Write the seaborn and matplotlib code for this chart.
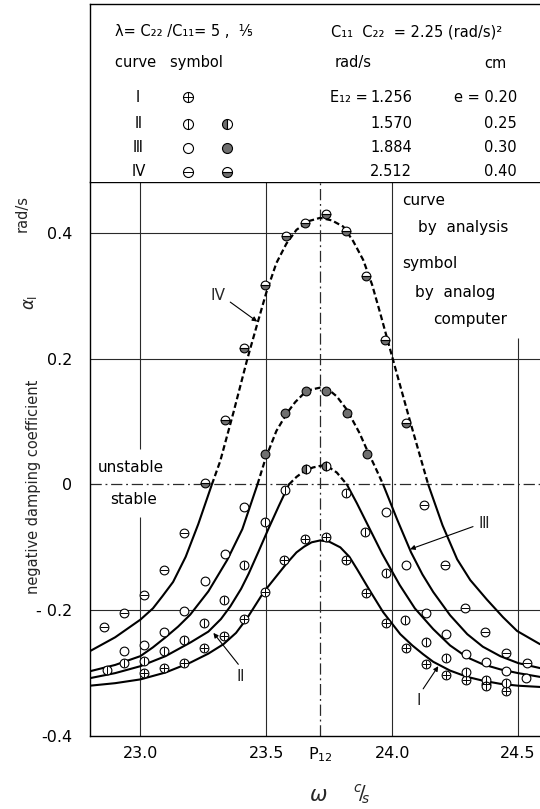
import matplotlib
matplotlib.use("Agg")
import matplotlib.pyplot as plt
import seaborn as sns
import numpy as np
import pandas as pd

sns.set_theme(style="white")
plt.rcParams["font.family"] = ["DejaVu Sans"]
plt.rcParams["mathtext.fontset"] = "dejavusans"

# ---------------- data ----------------
curve_names = ["Ⅰ", "Ⅱ", "Ⅲ", "Ⅳ"]
E12_values = ["1.256", "1.570", "1.884", "2.512"]
e_values = ["0.20", "0.25", "0.30", "0.40"]

x_ticks = [23.0, 23.5, 23.714, 24.0, 24.5]
x_tick_labels = ["23.0", "23.5", r"P$_{12}$", "24.0", "24.5"]
y_ticks = [0.4, 0.2, 0.0, -0.2, -0.4]
y_tick_labels = ["0.4", "0.2", "0", "- 0.2", "-0.4"]

# curves by analysis
I_cx = [22.80, 22.90, 23.00, 23.10, 23.20, 23.27, 23.33, 23.38, 23.425, 23.49, 23.54, 23.58, 23.62,
        23.65, 23.68, 23.714, 23.75, 23.794, 23.83, 23.861, 23.91, 23.964, 24.032, 24.08, 24.123,
        24.163, 24.23, 24.298, 24.36, 24.429, 24.50, 24.587]
I_cy = [-0.320, -0.316, -0.310, -0.299, -0.283, -0.269, -0.254, -0.236, -0.212, -0.171, -0.146, -0.126, -0.108,
        -0.099, -0.092, -0.089, -0.091, -0.100, -0.115, -0.135, -0.168, -0.203, -0.238, -0.256, -0.270,
        -0.282, -0.296, -0.306, -0.312, -0.317, -0.320, -0.322]

II_cx = [22.80, 22.90, 23.00, 23.10, 23.20, 23.27, 23.32, 23.357, 23.40, 23.43, 23.47, 23.508, 23.55,
         23.59, 23.62, 23.65, 23.685, 23.72, 23.75, 23.78, 23.82, 23.86, 23.90, 23.96, 24.03, 24.09,
         24.163, 24.23, 24.298, 24.36, 24.429, 24.50, 24.587]
II_cy = [-0.308, -0.300, -0.289, -0.273, -0.251, -0.234, -0.214, -0.194, -0.166, -0.142, -0.106, -0.071, -0.034,
         0.0, 0.012, 0.021, 0.027, 0.030, 0.027, 0.019, 0.0, -0.030, -0.062, -0.110, -0.160, -0.197,
         -0.230, -0.256, -0.275, -0.286, -0.294, -0.300, -0.306]

III_cx = [22.80, 22.90, 23.00, 23.05, 23.10, 23.15, 23.198, 23.27, 23.345, 23.405, 23.465, 23.496, 23.54,
          23.583, 23.615, 23.65, 23.68, 23.714, 23.75, 23.78, 23.82, 23.87, 23.90, 23.932, 23.964, 24.02,
          24.075, 24.12, 24.163, 24.23, 24.298, 24.36, 24.429, 24.50, 24.587]
III_cy = [-0.297, -0.287, -0.273, -0.259, -0.243, -0.226, -0.207, -0.170, -0.120, -0.071, 0.0, 0.040, 0.085,
          0.114, 0.131, 0.145, 0.151, 0.154, 0.150, 0.140, 0.119, 0.082, 0.055, 0.028, 0.0, -0.056,
          -0.108, -0.143, -0.171, -0.208, -0.238, -0.258, -0.273, -0.284, -0.292]

IV_cx = [22.80, 22.90, 23.00, 23.05, 23.087, 23.13, 23.18, 23.23, 23.284, 23.317, 23.37, 23.425, 23.464,
         23.50, 23.54, 23.58, 23.62, 23.67, 23.714, 23.76, 23.806, 23.845, 23.885, 23.92, 23.952, 24.00,
         24.07, 24.143, 24.20, 24.258, 24.31, 24.376, 24.44, 24.496, 24.587]
IV_cy = [-0.265, -0.243, -0.215, -0.197, -0.178, -0.155, -0.115, -0.063, 0.0, 0.037, 0.115, 0.200, 0.255,
         0.305, 0.352, 0.383, 0.405, 0.419, 0.424, 0.420, 0.410, 0.387, 0.357, 0.318, 0.273, 0.203,
         0.102, 0.0, -0.065, -0.119, -0.152, -0.183, -0.211, -0.233, -0.254]

# symbols by analog computer
I_px = [23.016, 23.095, 23.175, 23.254, 23.333, 23.413, 23.496, 23.571, 23.655, 23.738, 23.817,
        23.897, 23.976, 24.056, 24.135, 24.214, 24.294, 24.373, 24.452]
I_py = [-0.300, -0.292, -0.284, -0.260, -0.241, -0.214, -0.171, -0.120, -0.086, -0.084, -0.120,
        -0.173, -0.221, -0.260, -0.286, -0.303, -0.311, -0.317, -0.329]

II_px = [22.869, 22.937, 23.016, 23.095, 23.175, 23.254, 23.333, 23.413, 23.496, 23.575, 23.659,
         23.738, 23.817, 23.893, 23.976, 24.052, 24.135, 24.214, 24.294, 24.373, 24.373, 24.452]
II_py = [-0.295, -0.284, -0.280, -0.265, -0.247, -0.221, -0.184, -0.128, -0.060, -0.009, 0.025,
         0.029, -0.014, -0.076, -0.140, -0.216, -0.251, -0.276, -0.299, -0.311, -0.320, -0.316]

III_px = [22.937, 23.016, 23.095, 23.175, 23.258, 23.337, 23.413, 23.496, 23.575, 23.659, 23.738,
          23.821, 23.901, 23.976, 24.056, 24.135, 24.214, 24.294, 24.373, 24.452, 24.532]
III_py = [-0.265, -0.255, -0.235, -0.201, -0.153, -0.110, -0.036, 0.048, 0.113, 0.148, 0.149,
          0.113, 0.049, -0.043, -0.128, -0.205, -0.237, -0.270, -0.283, -0.297, -0.308]

IV_px = [22.857, 22.937, 23.016, 23.095, 23.175, 23.258, 23.337, 23.413, 23.496, 23.579, 23.655,
         23.738, 23.817, 23.897, 23.972, 24.056, 24.127, 24.210, 24.290, 24.370, 24.450, 24.535]
IV_py = [-0.227, -0.204, -0.175, -0.136, -0.077, 0.003, 0.103, 0.217, 0.317, 0.395, 0.416,
         0.430, 0.403, 0.332, 0.230, 0.097, -0.032, -0.128, -0.196, -0.234, -0.268, -0.284]

# ---------------- figure ----------------
W, H = 540, 809
fig = plt.figure(figsize=(W / 100, H / 100), dpi=100, facecolor="white")

X0, X1 = 22.8, 24.587
Y0, Y1 = -0.4, 0.481
ax = fig.add_axes([90 / W, 1 - 736 / H, 450 / W, (736 - 182) / H])
ax.set_xlim(X0, X1)
ax.set_ylim(Y0, Y1)
ax.set_facecolor("white")
for s in ["left", "bottom", "top"]:
    ax.spines[s].set_color("black")
    ax.spines[s].set_linewidth(1.0)
ax.spines["right"].set_visible(False)

GRID = dict(color="#2a2a2a", lw=0.8, zorder=1)
ax.vlines(23.0, 0.056, Y1, **GRID)
ax.vlines(23.0, Y0, -0.051, **GRID)
ax.vlines(23.5, Y0, Y1, **GRID)
ax.vlines(24.0, Y0, Y1, **GRID)
ax.vlines(24.5, Y0, 0.233, **GRID)
ax.hlines(0.4, X0, 24.0, **GRID)
ax.hlines(0.2, X0, X1, **GRID)
ax.hlines(-0.2, X0, X1, **GRID)
ax.axhline(0.0, color="#2a2a2a", lw=0.9, ls=(0, (9, 3, 1.5, 3)), zorder=1)
ax.axvline(23.714, color="#2a2a2a", lw=0.9, ls=(0, (9, 3, 1.5, 3)), zorder=1)

# curves: solid below zero, dashed above zero
def draw_curve(xs, ys):
    xs = np.asarray(xs); ys = np.asarray(ys)
    segpos = [(ys[i] + ys[i + 1]) / 2 > 0 for i in range(len(xs) - 1)]
    start = 0
    for i in range(1, len(segpos) + 1):
        if i == len(segpos) or segpos[i] != segpos[start]:
            sx = xs[start:i + 1]; sy = ys[start:i + 1]
            sns.lineplot(x=sx, y=sy, sort=False, estimator=None, color="black",
                         lw=1.5, ax=ax, zorder=3)
            ln = ax.lines[-1]
            ln.set_solid_joinstyle("round")
            if segpos[start]:
                ln.set_linestyle((0, (2.6, 1.4)))
                ln.set_linewidth(1.6)
            start = i

for cx, cy in [(I_cx, I_cy), (II_cx, II_cy), (III_cx, III_cy), (IV_cx, IV_cy)]:
    draw_curve(cx, cy)

GRAY = "#6f6f6f"
MS = 6.3

def draw_symbols(axis, xs, ys, inner, fill, ms=MS, filled_mask=None):
    xs = np.asarray(xs); ys = np.asarray(ys)
    if filled_mask is None:
        filled_mask = ys > 0
    openm = ~filled_mask
    if openm.any():
        sns.scatterplot(x=xs[openm], y=ys[openm], marker="o", s=ms ** 2, facecolor="white",
                        edgecolor="black", linewidth=0.8, ax=axis, zorder=5)
    if filled_mask.any():
        axis.plot(xs[filled_mask], ys[filled_mask], "o", ms=ms, mfc=GRAY, mfcalt="white",
                  fillstyle=fill, mec="black", mew=0.8, zorder=5, ls="none")
    if inner:
        axis.plot(xs, ys, inner, ms=ms, color="black", mew=0.7, zorder=6, ls="none")

draw_symbols(ax, I_px, I_py, "+", "full", filled_mask=np.zeros(len(I_px), bool))
draw_symbols(ax, II_px, II_py, "|", "left")
draw_symbols(ax, III_px, III_py, None, "full")
draw_symbols(ax, IV_px, IV_py, "_", "bottom")

# ticks
ax.set_xticks(x_ticks, x_tick_labels)
ax.set_yticks(y_ticks, y_tick_labels)
ax.tick_params(axis="both", length=0, labelsize=11.5, colors="black")
ax.tick_params(axis="x", pad=7)
ax.tick_params(axis="y", pad=13)
ax.set_xlabel(""); ax.set_ylabel("")

# annotations in plot
TXT = dict(fontsize=11, color="black", va="center", ha="left", zorder=7)
ax.text(24.04, 0.451, "curve", **TXT)
ax.text(24.103, 0.408, "by  analysis", **TXT)
ax.text(24.04, 0.351, "symbol", **TXT)
ax.text(24.091, 0.306, "by  analog", **TXT)
ax.text(24.163, 0.262, "computer", **TXT)
ax.text(22.829, 0.027, "unstable", **TXT)
ax.text(22.881, -0.024, "stable", **TXT)

ARR = dict(arrowstyle="-|>", lw=0.8, color="black", mutation_scale=7, shrinkA=0, shrinkB=0)
LAB = dict(fontsize=11, ha="center", va="center", zorder=7)
ax.text(23.306, 0.300, "Ⅳ", **LAB)
ax.annotate("", xy=(23.464, 0.259), xytext=(23.357, 0.290), arrowprops=ARR)
ax.text(24.365, -0.062, "Ⅲ", **LAB)
ax.annotate("", xy=(24.071, -0.103), xytext=(24.321, -0.067), arrowprops=ARR)
ax.text(23.397, -0.306, "Ⅱ", **LAB)
ax.annotate("", xy=(23.29, -0.236), xytext=(23.389, -0.286), arrowprops=ARR)
ax.text(24.107, -0.344, "Ⅰ", **LAB)
ax.annotate("", xy=(24.183, -0.289), xytext=(24.123, -0.325), arrowprops=ARR)

# axis titles
fig.text(34 / W, 1 - 487 / H, "negative damping coefficient", rotation=90,
         ha="center", va="center", fontsize=10.5)
fig.text(30 / W, 1 - 302 / H, r"$\alpha_{\mathrm{I}}$", rotation=90,
         ha="center", va="center", fontsize=12)
fig.text(22 / W, 1 - 213 / H, "rad/s", rotation=90, ha="center", va="center", fontsize=10.5)
fig.text(318 / W, 1 - 795 / H, r"$\omega$", ha="center", va="center", fontsize=15)
fig.text(362 / W, 1 - 794 / H, r"$^{c}\!/\!_{s}$", ha="center", va="center", fontsize=14)

# ---------------- header table ----------------
axt = fig.add_axes([90 / W, 1 - 182 / H, 450 / W, 178 / H])
axt.set_xlim(90, 540)
axt.set_ylim(182, 4)
axt.set_xticks([]); axt.set_yticks([])
axt.set_facecolor("white")
axt.spines["right"].set_visible(False)
axt.spines["bottom"].set_visible(False)
for s in ["left", "top"]:
    axt.spines[s].set_color("black")
    axt.spines[s].set_linewidth(1.0)

T = dict(fontsize=10.5, va="center", color="black")
axt.text(115, 32, "λ= C₂₂ /C₁₁= 5 ,  ⅕", ha="left", **T)
axt.text(331, 32, "C₁₁  C₂₂  = 2.25 (rad/s)²", ha="left", **T)
axt.text(115, 63, "curve   symbol", ha="left", **T)
axt.text(353, 63, "rad/s", ha="center", **T)
axt.text(495, 63, "cm", ha="center", **T)

row_y = [97, 124, 148, 172]
inners = ["+", "|", None, "_"]
fills = [None, "left", "full", "bottom"]
for i in range(4):
    yy = row_y[i]
    axt.text(138, yy, curve_names[i], ha="center", **T)
    draw_symbols(axt, [188], [yy], inners[i], "full", ms=7.2, filled_mask=np.array([False]))
    if fills[i] is not None:
        draw_symbols(axt, [227], [yy], inners[i], fills[i], ms=7.2, filled_mask=np.array([True]))
    axt.text(370, yy, E12_values[i], ha="left", **T)
    axt.text(517, yy, ("e = " if i == 0 else "") + e_values[i], ha="right", **T)
axt.text(330, row_y[0], "E₁₂ =", ha="left", **T)

fig.savefig("out.png", dpi=100, facecolor="white")
